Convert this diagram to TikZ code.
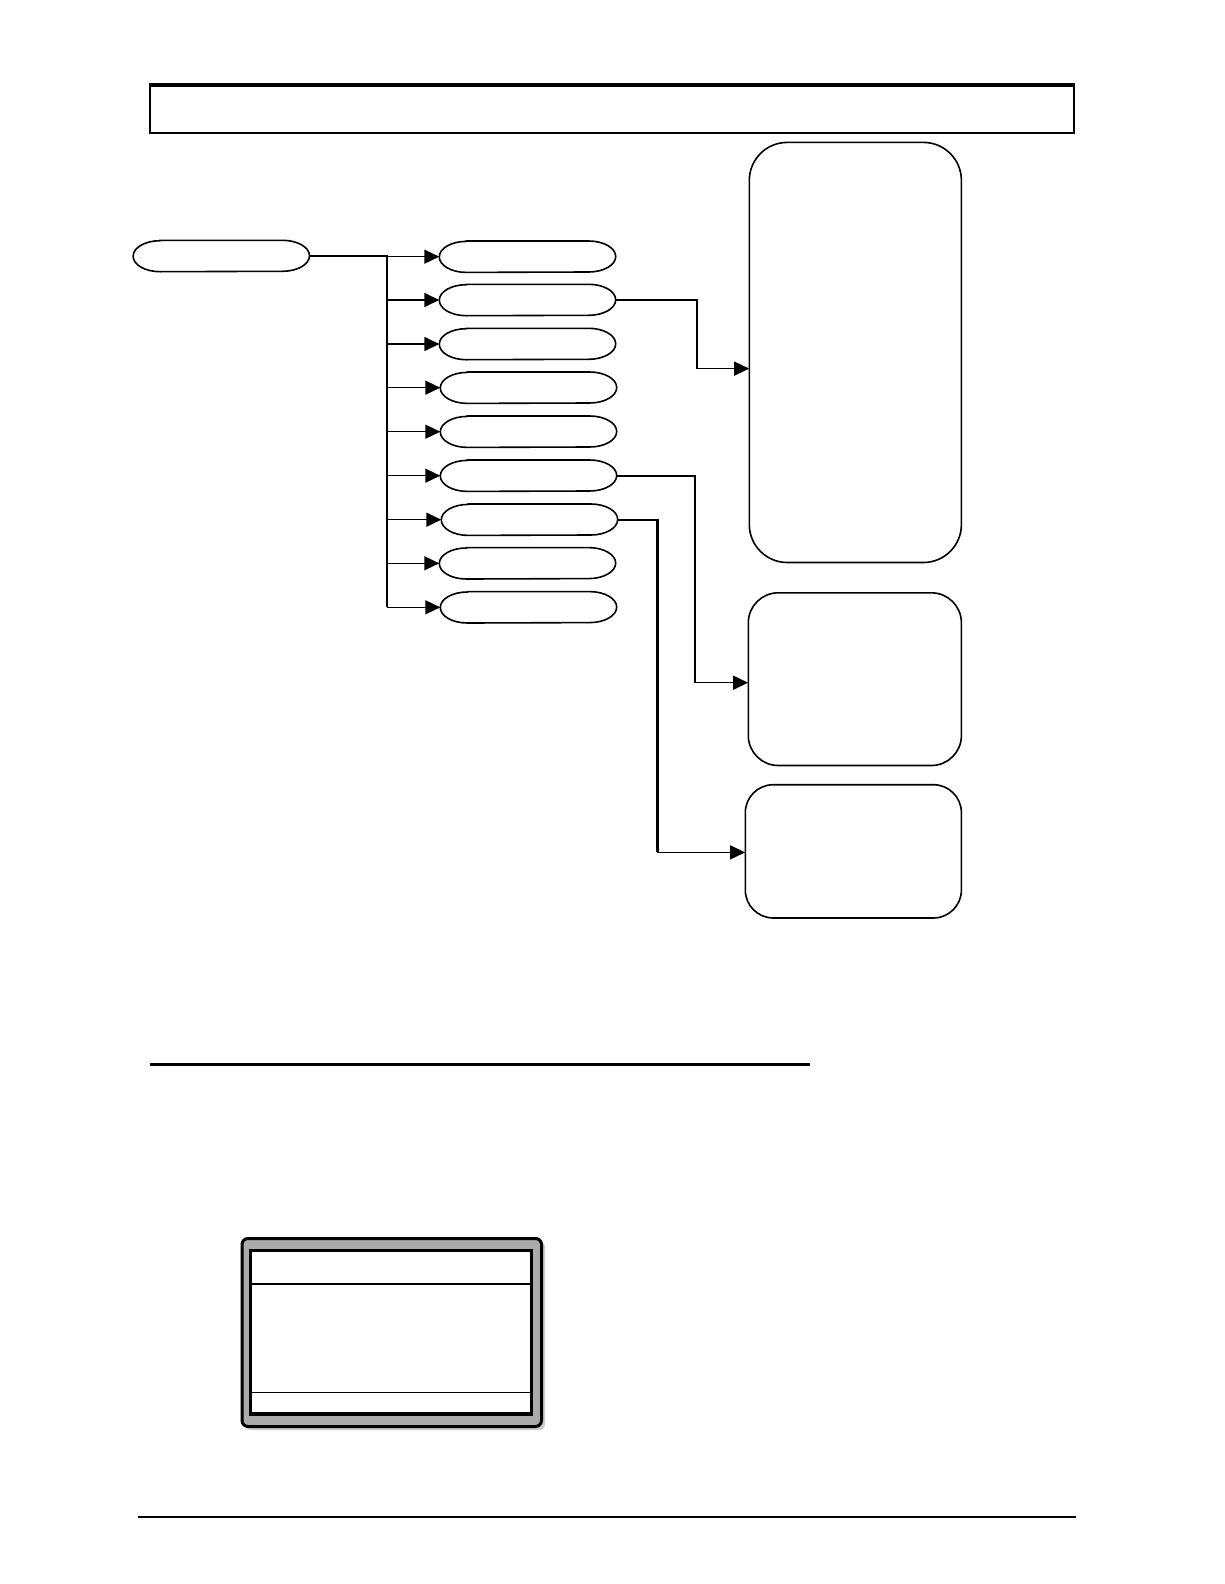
\documentclass[tikz,border=0pt]{standalone}
\usetikzlibrary{arrows.meta}
\tikzset{
  ovalbox/.style={inner sep=0pt, minimum width=176pt, minimum height=31pt},
  rbox/.style={draw, rectangle, line width=1.6pt, inner sep=0pt},
  bus/.style={line width=2.6pt},
  branch/.style={line width=1.5pt, -{Triangle[length=15pt,width=14pt]}},
  elbow/.style={line width=2.2pt},
  tiparrow/.style={line width=1.5pt, -{Triangle[length=15pt,width=14pt]}},
}
% stadium-shaped node with elliptical ends
\newcommand{\stadnode}[3]{%
  \node[ovalbox] (#1) at (#2,#3) {};
  \draw[line width=1.6pt] ([xshift=27pt]#1.north west) -- ([xshift=-27pt]#1.north east)
    arc[start angle=90, end angle=-90, x radius=27pt, y radius=15.5pt]
    -- ([xshift=27pt]#1.south west)
    arc[start angle=270, end angle=90, x radius=27pt, y radius=15.5pt] -- cycle;}
\begin{document}
\begin{tikzpicture}[x=1pt,y=-1pt]
\useasboundingbox[fill=white] (0,0) rectangle (1224,1584);

% header box
\draw[line width=2pt] (149.5,84) rectangle (1073.5,133);
\draw[line width=4.5pt] (148.5,85) -- (1074.5,85);

% root oval
\stadnode{root}{221.3}{256}

% bus
\coordinate (bj) at (387,256);
\coordinate (bb) at (387,607);
\draw[bus] (root.east) -- (bj) -- (bb);

% branch ovals
\stadnode{e1}{527.5}{256.7}
\stadnode{e2}{527.5}{300}
\stadnode{e3}{527.5}{344}
\stadnode{e4}{528.5}{387.7}
\stadnode{e5}{528.5}{431.7}
\stadnode{e6}{528.5}{475.7}
\stadnode{e7}{529.5}{519.7}
\stadnode{e8}{527.5}{563.3}
\stadnode{e9}{528.5}{607.3}

\foreach \n in {1,...,9}{
  \draw[branch] (bj |- e\n.west) -- (e\n.west);
}

% right boxes
\draw[rbox, rounded corners=38pt] (749.3,142.4) rectangle (961.4,562.5);
\node[inner sep=0pt, minimum width=212pt, minimum height=420pt] (b1) at (855.35,352.45) {};
\draw[rbox, rounded corners=30pt] (748.3,592.8) rectangle (961.4,765.5);
\node[inner sep=0pt, minimum width=213pt, minimum height=172.7pt] (b2) at (854.85,679.15) {};
\draw[rbox, rounded corners=28pt] (745.3,784.7) rectangle (961.4,918);
\node[inner sep=0pt, minimum width=216pt, minimum height=133.3pt] (b3) at (853.35,851.35) {};

% elbow connectors
\coordinate (k1a) at (696.8,300);
\coordinate (k1b) at (696.8,368.6);
\draw[elbow] (e2.east) -- (k1a) -- (k1b);
\draw[tiparrow] (k1b) -- (b1.west |- k1b);

\coordinate (k2a) at (694.8,475.7);
\coordinate (k2b) at (694.8,682.7);
\draw[line width=1.8pt] (e6.east) -- (k2a) -- (k2b);
\draw[tiparrow] (k2b) -- (b2.west |- k2b);

\coordinate (k3a) at (657.4,519.7);
\coordinate (k3b) at (657.4,852.4);
\draw[elbow] (e7.east) -- (k3a) -- (k3b);
\draw[tiparrow] (k3b) -- (b3.west |- k3b);

% horizontal rules
\draw[line width=3pt] (149.5,1064.4) -- (810,1064.4);
\draw[line width=2pt] (138.4,1516.9) -- (1075.5,1516.9);

% LCD panel
\fill[black!20, rounded corners=6pt] (245,1241) rectangle (545,1430);
\draw[line width=3pt, fill=black!33, rounded corners=6pt] (242,1238.5) rectangle (541.5,1426.5);
\draw[line width=2.5pt, fill=white] (250.5,1250.5) rectangle (531.5,1414.5);
\draw[line width=1.2pt] (250.5,1284) -- (532,1284);
\draw[line width=1.2pt] (252,1392.3) -- (531,1392.3);
\draw[line width=4pt] (250,1414) -- (532.5,1414);
\end{tikzpicture}
\end{document}
